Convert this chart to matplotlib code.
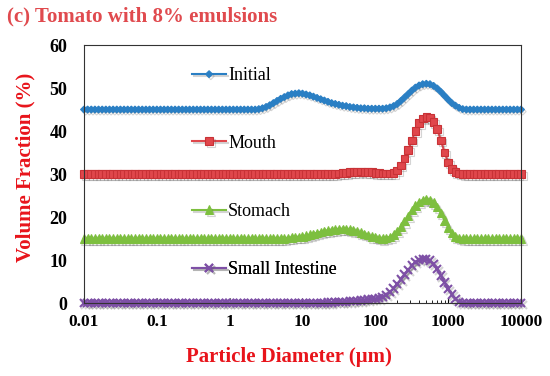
import numpy as np
import matplotlib.pyplot as plt
import matplotlib.patheffects as pe

# particle size bins (um), 20 per decade from 0.01 to 10000
size_um = np.logspace(-2, 4, 121)

initial = [45.0] * 48 + [
    45.1, 45.3, 45.6, 46.0, 46.5, 47.0, 47.5, 47.9, 48.3, 48.6,
    48.7, 48.8, 48.7, 48.5, 48.3, 48.0, 47.7, 47.4, 47.1, 46.8,
    46.5, 46.3, 46.1, 45.9, 45.8, 45.6, 45.5, 45.4, 45.3, 45.3,
    45.2, 45.2, 45.2, 45.2, 45.2, 45.3, 45.5, 45.8, 46.3, 47.0,
    47.8, 48.6, 49.4, 50.1, 50.6, 50.9, 51.0, 50.9, 50.5, 49.9,
    49.1, 48.2, 47.3, 46.5, 45.9, 45.4, 45.1] + [45.0] * 16

mouth = [30.0] * 70 + [
    30.1, 30.2, 30.3, 30.4, 30.5, 30.5, 30.6, 30.5, 30.5, 30.4,
    30.3, 30.2, 30.1, 30.1, 30.1, 30.3, 30.8, 32.0, 33.6, 35.6,
    37.8, 40.0, 41.8, 42.9, 43.3, 43.1, 42.1, 40.4, 37.8, 35.0,
    32.7, 31.2, 30.4, 30.1] + [30.0] * 17

stomach = [15.0] * 56 + [
    15.1, 15.2, 15.3, 15.4, 15.5, 15.7, 15.9, 16.1, 16.3, 16.5,
    16.7, 16.9, 17.0, 17.1, 17.2, 17.2, 17.2, 17.1, 16.9, 16.7,
    16.4, 16.1, 15.8, 15.5, 15.3, 15.1, 15.0, 15.1, 15.4, 15.9,
    16.7, 17.8, 19.0, 20.3, 21.6, 22.7, 23.5, 24.0, 24.2, 24.0,
    23.4, 22.3, 20.9, 19.2, 17.6, 16.3, 15.5, 15.1] + [15.0] * 17

small_int = [0.0] * 66 + [
    0.05, 0.1, 0.1, 0.2, 0.2, 0.3, 0.3, 0.4, 0.5, 0.5,
    0.6, 0.7, 0.8, 0.9, 1.0, 1.1, 1.4, 1.9, 2.6, 3.4,
    4.4, 5.5, 6.6, 7.7, 8.7, 9.5, 10.0, 10.3, 10.3, 9.9,
    9.1, 7.9, 6.4, 4.8, 3.3, 2.0, 1.0, 0.3] + [0.0] * 17

series = ['Initial', 'Mouth', 'Stomach', 'Small Intestine']
values = [initial, mouth, stomach, small_int]
colors = ['#2A7FC4', '#E0474C', '#7DBF3F', '#7E50A6']
markers = ['D', 's', '^', 'x']
msizes = [3.5, 5.5, 6, 6]
legend_y = [0.88, 0.62, 0.355, 0.128]

plt.rcParams['font.family'] = ['Liberation Serif', 'DejaVu Serif']

fig = plt.figure(figsize=(5.5, 3.76), dpi=100)
ax = fig.add_axes([0.1527, 0.1941, 0.7946, 0.6862])

shadow = [pe.SimpleLineShadow(offset=(1.2, -1.5), alpha=0.25, shadow_color='#555555'), pe.Normal()]

for name, vals, c, m, ms, ly in zip(series, values, colors, markers, msizes, legend_y):
    edge = c if m != 's' else '#C83236'
    line, = ax.plot(size_um, vals, color=c, marker=m, markersize=ms,
                    markeredgecolor=edge, markeredgewidth=1.5 if m == 'x' else 0.8,
                    linewidth=1.5, label=name, path_effects=shadow, clip_on=False)
    # each series gets its own little legend next to its curve
    leg = ax.legend(handles=[line], loc='center left', bbox_to_anchor=(0.247, ly),
                    frameon=False, fontsize=13, handlelength=1.9, handletextpad=0.1,
                    numpoints=1, borderaxespad=0, borderpad=0)
    ax.add_artist(leg)

ax.set_xscale('log')
ax.set_xlim(0.01, 10000)
ax.set_ylim(0, 60)
ax.set_yticks([0, 10, 20, 30, 40, 50, 60])
ax.set_xticks([0.01, 0.1, 1, 10, 100, 1000, 10000])
ax.set_xticklabels(['0.01', '0.1', '1', '10', '100', '1000', '10000'])
ax.tick_params(axis='x', which='both', direction='in', labelsize=12.5, pad=8)
ax.tick_params(axis='y', length=0, labelsize=13, pad=12)
for lab in ax.get_xticklabels() + ax.get_yticklabels():
    lab.set_fontweight('bold')
for sp in ax.spines.values():
    sp.set_linewidth(0.8)
    sp.set_color('#333333')

ax.set_xlabel('Particle Diameter (μm)', fontsize=15, fontweight='bold', color='#E8141B')
ax.set_ylabel('Volume Fraction (%)', fontsize=15, fontweight='bold', color='#E8141B')
ax.xaxis.set_label_coords(0.469, -0.17)
ax.yaxis.set_label_coords(-0.112, 0.527)
fig.text(0.013, 0.955, '(c) Tomato with 8% emulsions', fontsize=15, fontweight='bold',
         color='#E04A4E', va='center', ha='left')

plt.savefig('out.png', dpi=100)
